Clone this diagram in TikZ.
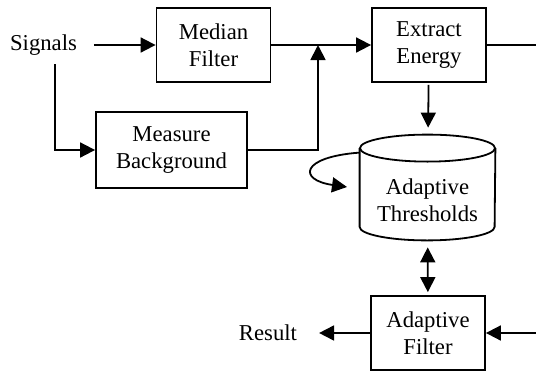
\documentclass[tikz,border=0pt]{standalone}
\usepackage{fontspec}
\setmainfont{Liberation Serif}
\usetikzlibrary{arrows.meta}

\begin{document}
\begin{tikzpicture}[x=0.5pt,y=-0.5pt,
  every node/.style={font=\fontsize{11.35}{13.5}\selectfont},
  blk/.style={draw,line width=0.9pt,align=center,minimum width=57pt,minimum height=37pt,inner sep=0pt},
  arr/.style={-{Triangle[length=7.5pt,width=7.5pt]},line width=0.9pt}]
\useasboundingbox (0,0) rectangle (536,370);

\node (sig) at (43.5,45) {Signals};
\node[blk] (med) at (213.5,45) {Median\\Filter};
\node[blk] (ext) at (429,45) {Extract\\Energy};
\node[blk,minimum width=75.5pt,minimum height=38pt] (meas) at (171.5,150) {Measure\\Background};
\node[minimum width=67.5pt,minimum height=52.5pt,inner sep=0pt,
  label={[align=center,yshift=-6.25pt]center:Adaptive\\Thresholds}] (thr) at (427.5,187.5) {};
\node[blk] (adf) at (428,333) {Adaptive\\Filter};
\node (res) at (268,333) {Result};

% the store
\draw[line width=0.9pt] ([yshift=-6.75pt]thr.north) ellipse [x radius=33.75pt,y radius=6.75pt];
\draw[line width=0.9pt] ([yshift=-6.75pt]thr.north west) -- ([yshift=6.75pt]thr.south west)
  arc[start angle=180,end angle=360,x radius=33.75pt,y radius=6.75pt] -- ([yshift=-6.75pt]thr.north east);

\coordinate (jn) at (318,45);
\coordinate (eo) at (536,45);
\coordinate (ai) at (536,333);
\coordinate (lp) at (347,187);

\draw[arr,shorten <=5pt] (sig) -- (med);
\draw[arr] ([xshift=5.75pt,yshift=-1pt]sig.south) |- (meas.west);
\draw[arr] (meas.east) -| (jn);
\draw[arr] (med) -- (ext);
\draw[line width=0.9pt] (ext) -- (eo);
\draw[arr,shorten <=1pt,shorten >=3.5pt] (ext) -- (thr);
\draw[arr] ([yshift=-9pt]thr.north west) .. controls (300,157) and (298,180) .. (lp);
\draw[{Triangle[length=7.5pt,width=7.5pt]}-{Triangle[length=7.5pt,width=7.5pt]},line width=0.9pt,
  shorten <=3.5pt,shorten >=1.5pt] (thr) -- (adf);
\draw[arr,shorten >=7.5pt] (adf) -- (res);
\draw[arr] (ai) -- (adf);
\end{tikzpicture}
\end{document}
